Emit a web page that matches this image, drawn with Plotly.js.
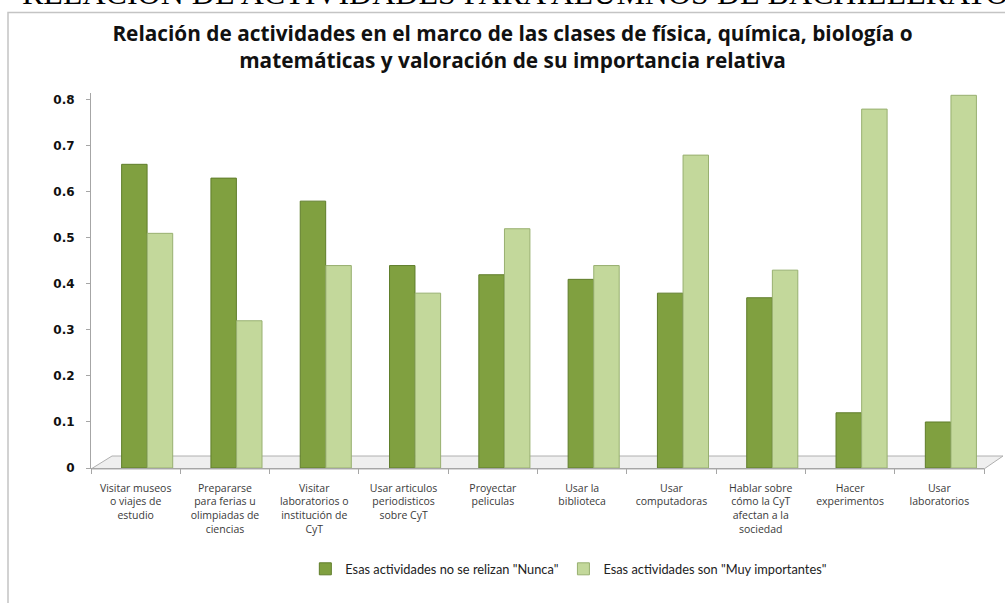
<!DOCTYPE html>
<html>
<head>
<meta charset="utf-8">
<script src="https://cdn.plot.ly/plotly-3.0.1.min.js"></script>
<style>html,body{margin:0;padding:0;background:#fff;}#chart{width:1005px;height:603px;}</style>
</head>
<body>
<div id="chart"></div>
<script>
const categories = [
  "Visitar museos<br>o viajes de<br>estudio",
  "Prepararse<br>para ferias u<br>olimpiadas de<br>ciencias",
  "Visitar<br>laboratorios o<br>institución de<br>CyT",
  "Usar articulos<br>periodisticos<br>sobre CyT",
  "Proyectar<br>peliculas",
  "Usar la<br>biblioteca",
  "Usar<br>computadoras",
  "Hablar sobre<br>cómo la CyT<br>afectan a la<br>sociedad",
  "Hacer<br>experimentos",
  "Usar<br>laboratorios"
];
const seriesNames = ['Esas actividades no se relizan "Nunca"', 'Esas actividades son "Muy importantes"'];
const nunca = [0.66, 0.63, 0.58, 0.44, 0.42, 0.41, 0.38, 0.37, 0.12, 0.10];
const muyImportantes = [0.51, 0.32, 0.44, 0.38, 0.52, 0.44, 0.68, 0.43, 0.78, 0.81];
const yTickVals = [0, 0.1, 0.2, 0.3, 0.4, 0.5, 0.6, 0.7, 0.8];
const yTickText = ["0", "0.1", "0.2", "0.3", "0.4", "0.5", "0.6", "0.7", "0.8"];

const data = [
  {type: "bar", name: seriesNames[0], x: categories, y: nunca,
   width: 0.285, offset: -0.157,
   marker: {color: "#80a040", line: {color: "#5f7d2a", width: 1}}},
  {type: "bar", name: seriesNames[1], x: categories, y: muyImportantes,
   width: 0.285, offset: 0.13,
   marker: {color: "#c3d89b", line: {color: "#98b070", width: 1}}}
];

// plot area geometry helpers (paper units) for decorative frame/floor
const L = 91, R = 984, T = 93, B = 468;
const px = v => (v - L) / (R - L);
const py = v => (B - v) / (B - T);

const layout = {
  width: 1005, height: 603,
  paper_bgcolor: "#ffffff", plot_bgcolor: "rgba(0,0,0,0)",
  margin: {l: 91, r: 21, t: 93, b: 135},
  barmode: "overlay",
  font: {family: "Lato, sans-serif", color: "#222"},
  title: {
    text: "<b>Relación de actividades en el marco de las clases de física, química, biología o<br>matemáticas y valoración de su importancia relativa</b>",
    font: {family: "'Open Sans', sans-serif", size: 20.8, color: "#111"},
    x: 0.51, xref: "container", xanchor: "center",
    y: 1 - 41/603, yref: "container", yanchor: "middle"
  },
  xaxis: {
    type: "category",
    showline: true, linecolor: "#a6a6a6", linewidth: 1,
    ticks: "outside", ticklen: 5, tickcolor: "#a6a6a6",
    tickson: "boundaries",
    ticklabelstandoff: 10,
    tickfont: {size: 10.5, color: "#3a3a3a", family: "'Open Sans', sans-serif"},
    tickangle: 0,
    showgrid: false, zeroline: false, fixedrange: true
  },
  yaxis: {
    range: [0, 0.815],
    tickvals: yTickVals, ticktext: yTickText,
    showline: true, linecolor: "#a6a6a6", linewidth: 1,
    ticks: "outside", ticklen: 4, tickcolor: "#a6a6a6",
    ticklabelstandoff: 9,
    tickfont: {size: 12, color: "#111", family: "'DejaVu Sans', sans-serif", weight: "bold"},
    showgrid: false, zeroline: false, fixedrange: true
  },
  legend: {
    orientation: "h", xref: "container", yref: "container",
    x: 0.566, xanchor: "center", y: 1 - 569/603, yanchor: "middle",
    font: {size: 12.8, color: "#222", family: "Lato, sans-serif"},
    itemwidth: 30
  },
  annotations: [{
    text: "RELACIÓN DE ACTIVIDADES PARA ALUMNOS DE BACHILLERATO",
    xref: "paper", yref: "paper", x: px(20), y: py(-7),
    xanchor: "left", yanchor: "middle", showarrow: false,
    font: {family: "'Liberation Serif', 'DejaVu Serif', serif", size: 32, color: "#000"}
  }],
  shapes: [
    {type: "rect", xref: "paper", yref: "paper",
     x0: px(8), x1: px(1030), y0: py(640), y1: py(12.5),
     line: {color: "#c4c4c4", width: 1.5}, fillcolor: "rgba(0,0,0,0)", layer: "below"},
    {type: "path", xref: "paper", yref: "paper", layer: "below",
     path: "M" + px(91) + "," + py(469) + " L" + px(984) + "," + py(469) +
           " L" + px(1003) + "," + py(456) + " L" + px(112) + "," + py(456) + " Z",
     fillcolor: "#efefef", line: {color: "#b0b0b0", width: 1}}
  ],
  showlegend: true
};

Plotly.newPlot("chart", data, layout, {displayModeBar: false, staticPlot: true});
</script>
</body>
</html>
